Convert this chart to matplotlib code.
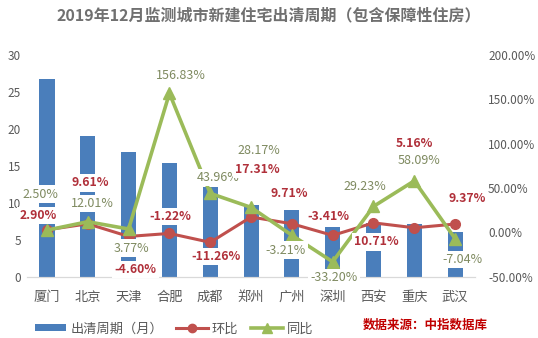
import matplotlib
matplotlib.use("Agg")
import matplotlib.pyplot as plt
from matplotlib.patches import Patch
from matplotlib.lines import Line2D
import numpy as np

plt.rcParams['font.family'] = ['Noto Sans CJK SC', 'DejaVu Sans']

cities = ['厦门', '北京', '天津', '合肥', '成都', '郑州', '广州', '深圳', '西安', '重庆', '武汉']
cycle_months = [26.7, 19.0, 16.9, 15.4, 12.2, 9.7, 9.0, 6.7, 7.3, 7.1, 6.1]
mom = [2.90, 9.61, -4.60, -1.22, -11.26, 17.31, 9.71, -3.41, 10.71, 5.16, 9.37]
yoy = [2.50, 12.01, 3.77, 156.83, 43.96, 28.17, -3.21, -33.20, 29.23, 58.09, -7.04]

# label offsets in pixels (dx, dy) relative to each point
mom_off = [(-9, 14), (2, 41), (7, -33), (1, 17), (6, -14), (6, 48),
           (-3, 30), (-4, 19), (3, -19), (0, 84), (12, 26)]
yoy_off = [(-7, 36), (5, 18), (3, -19), (11, 18), (8, 16), (8, 57),
           (-6, -15), (1, -16), (-9, 20), (5, 20), (7, -21)]

BAR = '#4A7EBB'
RED = '#C0504D'
GREEN = '#9BBB59'
RED_TXT = '#B0303A'
GREEN_TXT = '#7F8A60'
GRAY = '#595959'

fig = plt.figure(figsize=(5.38, 3.38), dpi=100)
ax = fig.add_axes([26.6 / 538, 1 - 276.7 / 338, (475.5 - 26.6) / 538, (276.7 - 55) / 338])
ax2 = ax.twinx()

x = np.arange(len(cities))
ax.bar(x, cycle_months, width=0.37, color=BAR, zorder=1)
ax.set_ylim(0, 30)
ax.set_yticks(range(0, 31, 5))
ax.set_xlim(-0.5, len(cities) - 0.5)
ax.set_xticks(x)
ax.set_xticklabels(cities, fontsize=9.5, color=GRAY)
ax.tick_params(axis='x', length=0, pad=10)
ax.tick_params(axis='y', length=0, pad=4, labelsize=8.5, labelcolor=GRAY)

ax2.set_ylim(-50, 200)
ax2.set_yticks(range(-50, 201, 50))
ax2.set_yticklabels([f'{v:.2f}%' for v in range(-50, 201, 50)])
ax2.tick_params(axis='y', length=0, pad=9, labelsize=8.5, labelcolor=GRAY)

for a in (ax, ax2):
    for s in ('top', 'left', 'right'):
        a.spines[s].set_visible(False)
    a.spines['bottom'].set_color('#D9D9D9')

ax2.plot(x, mom, color=RED, lw=2.2, marker='o', ms=7, zorder=2)
ax2.plot(x, yoy, color=GREEN, lw=2.6, marker='^', ms=8, zorder=3)

box = dict(boxstyle='square,pad=0.18', fc='white', ec='none')
for i in range(len(cities)):
    ax2.annotate(f'{mom[i]:.2f}%', (x[i], mom[i]), xytext=mom_off[i],
                 textcoords='offset pixels', ha='center', va='center',
                 fontsize=8.8, color=RED_TXT, fontweight='bold', bbox=box, zorder=6)
    ax2.annotate(f'{yoy[i]:.2f}%', (x[i], yoy[i]), xytext=yoy_off[i],
                 textcoords='offset pixels', ha='center', va='center',
                 fontsize=9, color=GREEN_TXT, bbox=box, zorder=6)

fig.text(0.5, 1 - 15 / 338, '2019年12月监测城市新建住宅出清周期（包含保障性住房）',
         ha='center', va='center', fontsize=11.5, fontweight='bold', color='#707070')

handles = [Patch(facecolor=BAR, edgecolor='none'),
           Line2D([], [], color=RED, lw=2.2, marker='o', ms=6),
           Line2D([], [], color=GREEN, lw=2.6, marker='^', ms=7)]
leg = fig.legend(handles, ['出清周期（月）', '环比', '同比'], ncol=3,
                 loc='center left', bbox_to_anchor=(28 / 538, 1 - 329 / 338),
                 frameon=False, fontsize=9.5, handlelength=2.4, handleheight=0.45,
                 handletextpad=0.3, columnspacing=1.0, labelcolor=GRAY, borderpad=0)

fig.text(488 / 538, 1 - 325 / 338, '数据来源：中指数据库', ha='right', va='center',
         fontsize=9, fontweight='bold', fontstyle='italic', color='#C00000')

fig.savefig('out.png', dpi=100)
